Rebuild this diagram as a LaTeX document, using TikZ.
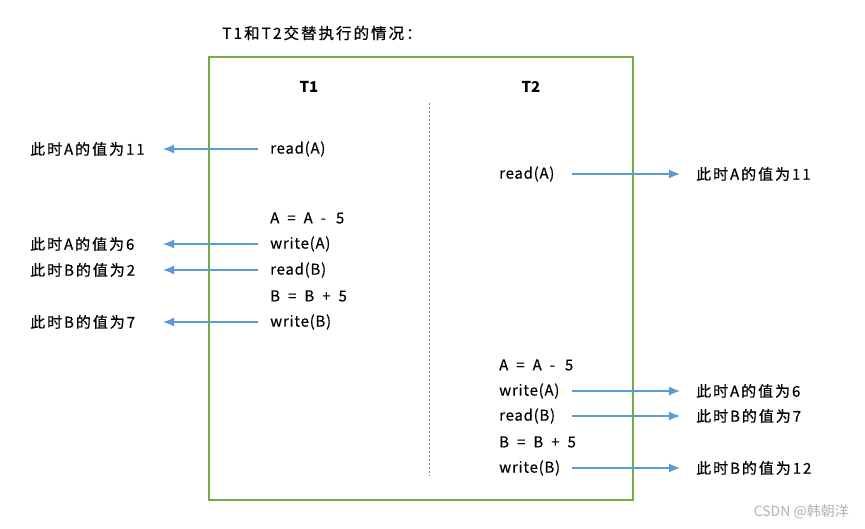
\documentclass[tikz,border=0pt]{standalone}
\usepackage{fontspec}
\setmainfont{Noto Sans CJK SC}
\newfontfamily\valfont[LetterSpace=13,FakeBold=0.6]{Noto Sans CJK SC}
\newfontfamily\opfont[LetterSpace=5,FakeBold=0.3]{Noto Sans CJK SC}
\usetikzlibrary{arrows.meta,positioning}
\definecolor{boxgreen}{RGB}{112,173,71}
\definecolor{flowblue}{RGB}{91,155,213}
\definecolor{divgrey}{RGB}{120,140,110}
\newcommand{\gap}{\hspace{8pt}}
\tikzset{
  op/.style={anchor=west,inner sep=0pt,font=\opfont\fontsize{15}{18}\selectfont},
  val/.style={anchor=west,inner sep=0pt,font=\valfont\fontsize{15}{18}\selectfont},
  head/.style={inner sep=0pt,font=\fontsize{15}{18}\selectfont\bfseries},
  flow/.style={flowblue,line width=1.1pt,-{Latex[length=11pt,width=9pt]}},
}

\begin{document}
\begin{tikzpicture}[x=1pt,y=-1pt]
        \useasboundingbox (0,0) rectangle (865,529);
        % title and frame
        \node[val,font=\valfont\fontsize{15.5}{18}\selectfont] (title) at (222,33) {T1和T2交替执行的情况：};
        \draw[boxgreen,line width=1.6pt] (209,57) rectangle (633,500);
        \draw[divgrey,dashed,dash pattern=on 2pt off 2pt,line width=0.6pt] (429,103) -- (429,476);
        \node[head] (t1) at (309,87) {T1};
        \node[head] (t2) at (531,87) {T2};
        % T1 column
        \node[op] (ra1) at (270,149) {read(A)};
        \node[op] (ca1) at (270,218) {A\gap=\gap A\gap-\gap\hspace{2pt}5};
        \node[op] (wa1) at (270,244) {write(A)};
        \node[op] (rb1) at (270,270) {read(B)};
        \node[op] (cb1) at (270,296) {B\gap=\gap B\gap+\gap 5};
        \node[op] (wb1) at (270,322) {write(B)};
        % T2 column
        \node[op] (ra2) at (499,174) {read(A)};
        \node[op] (ca2) at (499,365) {A\gap=\gap A\gap-\gap\hspace{2pt}5};
        \node[op] (wa2) at (499,391) {write(A)};
        \node[op] (rb2) at (499,416) {read(B)};
        \node[op] (cb2) at (499,442) {B\gap=\gap B\gap+\gap 5};
        \node[op] (wb2) at (499,468) {write(B)};
        % values seen
        \node[val] (vra1) at (30,149) {此时A的值为11};
        \node[val] (vwa1) at (30,244) {此时A的值为6};
        \node[val] (vrb1) at (30,270) {此时B的值为2};
        \node[val] (vwb1) at (30,322) {此时B的值为7};
        \node[val] (vra2) at (696,174) {此时A的值为11};
        \node[val] (vwa2) at (696,391) {此时A的值为6};
        \node[val] (vrb2) at (696,416) {此时B的值为7};
        \node[val] (vwb2) at (696,468) {此时B的值为12};
        % arrows
        \coordinate (lend) at (163,0);
        \coordinate (rbeg) at (572,0);
        \coordinate (rend) at (680,0);
        \foreach \n in {ra1,wa1,rb1,wb1}
            \draw[flow] ([xshift=-12pt]\n.west) -- (\n.west -| lend);
        \foreach \n in {ra2,wa2,rb2,wb2}
            \draw[flow] (\n.west -| rbeg) -- (\n.west -| rend);
        \node[anchor=east,inner sep=0pt,text=gray!60,font=\fontsize{14}{16}\selectfont] (mark) at (849,512) {CSDN @韩朝洋};
    \end{tikzpicture}
\end{document}
